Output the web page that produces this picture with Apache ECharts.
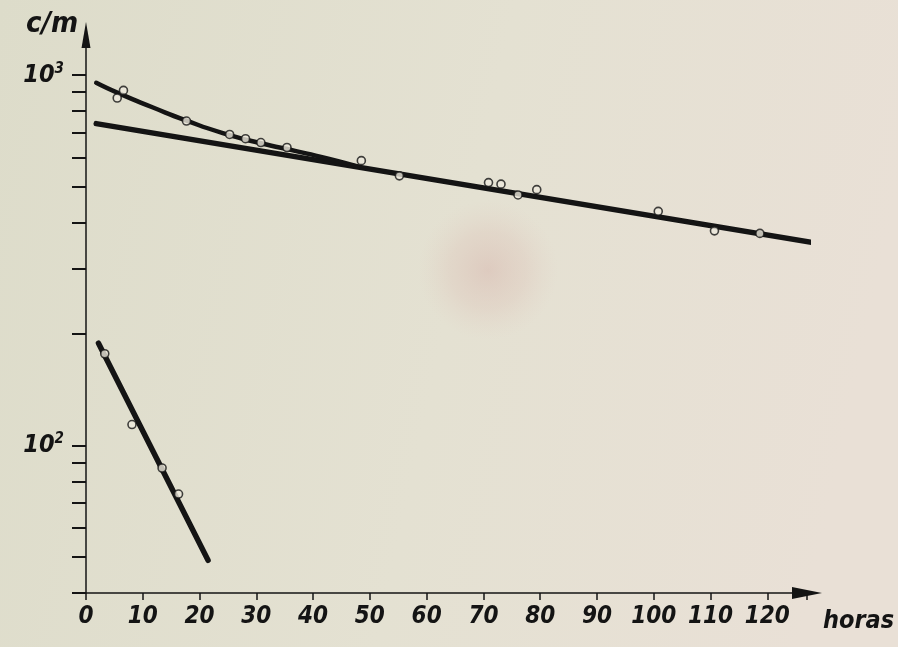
<!DOCTYPE html>
<html>
<head>
<meta charset="utf-8">
<script src="https://cdn.jsdelivr.net/npm/echarts@6/dist/echarts.min.js"></script>
<style>
html,body{margin:0;padding:0;background:#e2dfd0;}
#chart{width:898px;height:647px;}
</style>
</head>
<body>
<div id="chart"></div>
<script>
// ---- data (t in hours, c/m counts) ----
const fitSlow = [[1.8, 740], [130.6, 348]];
const fitFast = [[2.2, 189], [21.5, 49]];
const fitTotal = [[1.8, 954], [5.8, 893], [11.8, 818], [17.6, 755], [24.1, 698], [30.8, 655], [37.0, 624], [42.5, 596], [48.0, 566]];
const obsUpper = [[5.5, 868], [6.6, 910], [17.7, 752], [25.3, 692], [28.1, 674], [30.8, 658], [35.4, 638], [48.5, 588], [55.2, 535], [70.9, 513], [73.1, 508], [76.1, 475], [79.4, 491], [100.8, 429], [110.7, 380], [118.7, 374]];
const obsLower = [[3.3, 177], [8.1, 114], [13.4, 87], [16.3, 74]];
const yTickValues = [40, 50, 60, 70, 80, 90, 100, 200, 300, 400, 500, 600, 700, 800, 900, 1000];
const yLabelValues = [100, 1000];
const xTickStep = 10;
const xMin = 0, xMax = 127;
const yMin = 40, yMax = 1284;

const ink = '#141414';
const labelFont = "'Liberation Sans Narrow', 'DejaVu Sans Condensed', 'DejaVu Sans', sans-serif";

const chart = echarts.init(document.getElementById('chart'), null, {renderer: 'canvas'});
chart.setOption({
  animation: false,
  backgroundColor: '#e2dfd0',
  graphic: [
    {type: 'rect', silent: true, z: -10, shape: {x: 0, y: 0, width: 898, height: 647},
      style: {fill: {type: 'linear', x: 0, y: 0, x2: 1, y2: 0.3, colorStops: [
        {offset: 0, color: '#dddcca'}, {offset: 0.55, color: '#e4e1d2'}, {offset: 1, color: '#e9e0d6'}]}}},
    {type: 'circle', silent: true, z: -5, shape: {cx: 488, cy: 270, r: 70},
      style: {fill: {type: 'radial', x: 0.5, y: 0.5, r: 0.5, colorStops: [
        {offset: 0, color: 'rgba(212,172,165,0.42)'}, {offset: 0.55, color: 'rgba(218,184,175,0.25)'}, {offset: 1, color: 'rgba(225,200,190,0)'}]}}},
    {type: 'text', silent: true, left: 26, top: 10,
      style: {text: 'c/m', font: "italic bold 29px 'DejaVu Sans Condensed', 'DejaVu Sans', sans-serif", fill: ink}},
    {type: 'text', silent: true, left: 823, top: 609,
      style: {text: 'horas', font: "italic bold 25px " + labelFont, fill: ink}}
  ],
  grid: {left: 86, right: 91, top: 35, bottom: 54, containLabel: false},
  xAxis: {
    type: 'value', min: xMin, max: xMax, interval: xTickStep,
    axisLine: {show: true, onZero: false, symbol: ['none', 'triangle'], symbolSize: [12, 30],
      lineStyle: {color: ink, width: 1.5}},
    axisTick: {show: true, inside: false, length: 7, lineStyle: {color: ink, width: 1.5}},
    axisLabel: {color: ink, fontFamily: labelFont, fontStyle: 'italic', fontWeight: 'bold', fontSize: 24, margin: 12,
      formatter: v => (v <= 120 ? String(v) : '')},
    splitLine: {show: false}
  },
  yAxis: {
    type: 'log', logBase: 10, min: yMin, max: yMax,
    axisLine: {show: true, onZero: false, symbol: ['none', 'triangle'], symbolSize: [9, 26],
      lineStyle: {color: ink, width: 1.5}},
    axisTick: {show: true, inside: false, length: 14, customValues: yTickValues, lineStyle: {color: ink, width: 2}},
    axisLabel: {show: true, customValues: yLabelValues, margin: 22, color: ink,
      formatter: v => (Math.round(v) === 100 ? '10{s|2}' : '10{s|3}'),
      fontFamily: "'DejaVu Sans Condensed', 'DejaVu Sans', sans-serif", fontStyle: 'italic', fontWeight: 'bold', fontSize: 25,
      rich: {s: {fontFamily: "'DejaVu Sans Condensed', 'DejaVu Sans', sans-serif", fontStyle: 'italic', fontWeight: 'bold', fontSize: 15, padding: [0, 0, 12, 0], color: ink}}},
    splitLine: {show: false},
    minorTick: {show: false}
  },
  series: [
    {type: 'line', name: 'lenta', data: fitSlow, symbol: 'none', z: 3,
      lineStyle: {color: ink, width: 5.5, cap: 'round'}},
    {type: 'line', name: 'total', data: fitTotal, symbol: 'none', smooth: 0.6, z: 3,
      lineStyle: {color: ink, width: 4.5, cap: 'round', join: 'round'}},
    {type: 'line', name: 'rápida', data: fitFast, symbol: 'none', z: 3,
      lineStyle: {color: ink, width: 5.5, cap: 'round'}},
    {type: 'scatter', name: 'obs1', data: obsUpper, symbol: 'circle', symbolSize: 8, z: 5,
      itemStyle: {color: '#ece9dc', borderColor: ink, borderWidth: 1.6}},
    {type: 'scatter', name: 'obs2', data: obsLower, symbol: 'circle', symbolSize: 8, z: 5,
      itemStyle: {color: '#ece9dc', borderColor: ink, borderWidth: 1.6}}
  ]
});
</script>
</body>
</html>
